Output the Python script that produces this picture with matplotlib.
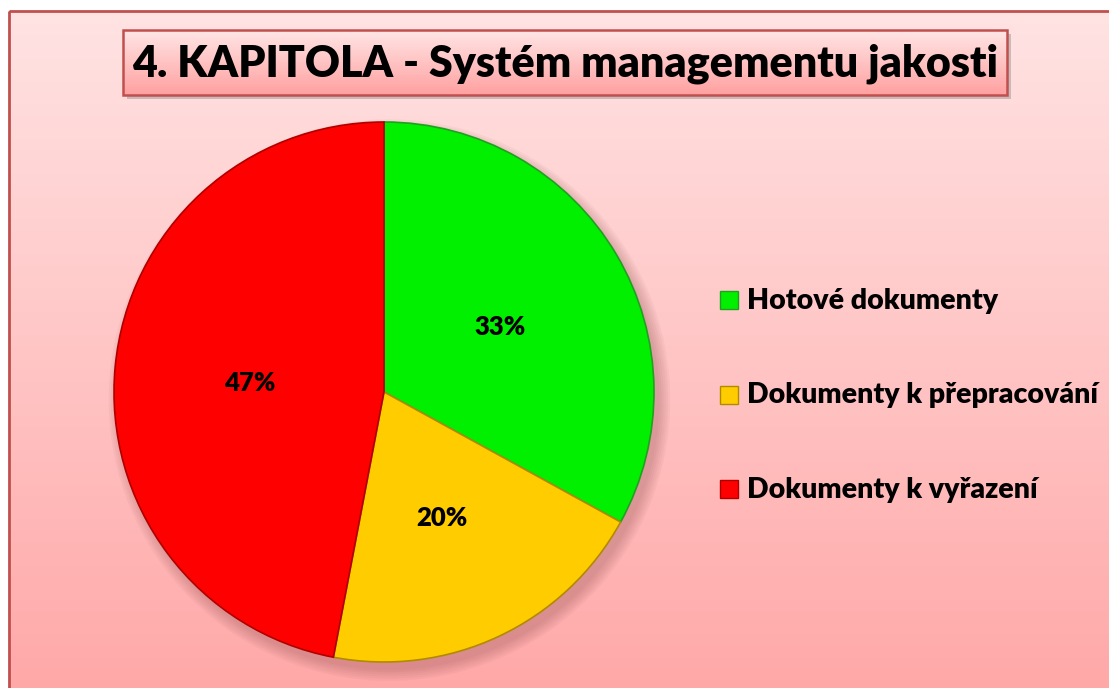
import numpy as np
import matplotlib.pyplot as plt
from matplotlib.patches import Rectangle, Circle
from matplotlib.colors import LinearSegmentedColormap

# data
labels = ['Hotové dokumenty', 'Dokumenty k přepracování', 'Dokumenty k vyřazení']
shares = [33, 20, 47]
colors = ['#00F000', '#FFCC00', '#FF0000']
edges = ['#20A020', '#B08A00', '#B00000']
title = '4. KAPITOLA - Systém managementu jakosti'

W, H = 1109, 688
plt.rcParams['font.family'] = ['Lato', 'DejaVu Sans']

fig = plt.figure(figsize=(W / 100, H / 100), dpi=100)
fig.patch.set_facecolor('white')


def px_axes(x0, y0, x1, y1):
    """axes placed by pixel box, measured from top-left"""
    return fig.add_axes([x0 / W, 1 - y1 / H, (x1 - x0) / W, (y1 - y0) / H])


# background with pink gradient
bg = fig.add_axes([0, 0, 1, 1])
bg.set_xlim(0, W)
bg.set_ylim(H, 0)
bg.axis('off')
grad = np.linspace(0, 1, 256).reshape(-1, 1)
area_cmap = LinearSegmentedColormap.from_list('area', ['#FFE3E3', '#FFA8A8'])
bg.imshow(grad, extent=(9, W + 5, H + 5, 11), aspect='auto', cmap=area_cmap, zorder=0)
bg.add_patch(Rectangle((9, 11), W, H, fill=False, ec='#C0504D', lw=2, zorder=1))

# title box
bg.add_patch(Rectangle((127, 34), 884, 65, fc='#999999', alpha=0.5, ec='none', zorder=2))
box_cmap = LinearSegmentedColormap.from_list('box', ['#FFE6E6', '#FFA0A0'])
bg.imshow(grad, extent=(123, 1007, 95, 30), aspect='auto', cmap=box_cmap, zorder=3)
bg.add_patch(Rectangle((123, 30), 884, 65, fill=False, ec='#C0504D', lw=1.8, zorder=4))
bg.text(565, 64, title, ha='center', va='center', fontsize=31, fontweight='heavy', zorder=5)

# legend drawn by hand
for i, (lab, col, ec) in enumerate(zip(labels, colors, edges)):
    y = 300 + i * 94.5
    bg.add_patch(Rectangle((720, y - 9), 18, 18, fc=col, ec=ec, lw=1, zorder=5))
    bg.text(747, y + 1, lab, ha='left', va='center', fontsize=20.5, fontweight='heavy', zorder=5)

# pie
ax = px_axes(114, 122, 654, 662)
for k in range(6):
    ax.add_patch(Circle((0.02, -0.03), 1.0 + 0.008 * k, fc='#804040', alpha=0.05,
                        ec='none', clip_on=False, zorder=0))
wedges, texts, autotexts = ax.pie(
    shares, colors=colors, startangle=90, counterclock=False,
    autopct=lambda p: f'{p:.0f}%', pctdistance=0.5,
    wedgeprops=dict(linewidth=1.2),
    textprops=dict(fontsize=18.5, fontweight='heavy', color='black'))
for w, ec in zip(wedges, edges):
    w.set_edgecolor(ec)
    w.set_zorder(2)
for t in autotexts:
    t.set_zorder(3)
    x, y = t.get_position()
    t.set_position((x, y - 0.015))
ax.set_xlim(-1, 1)
ax.set_ylim(-1, 1)
ax.set_aspect('equal')
ax.axis('off')

fig.savefig('out.png', dpi=100)
